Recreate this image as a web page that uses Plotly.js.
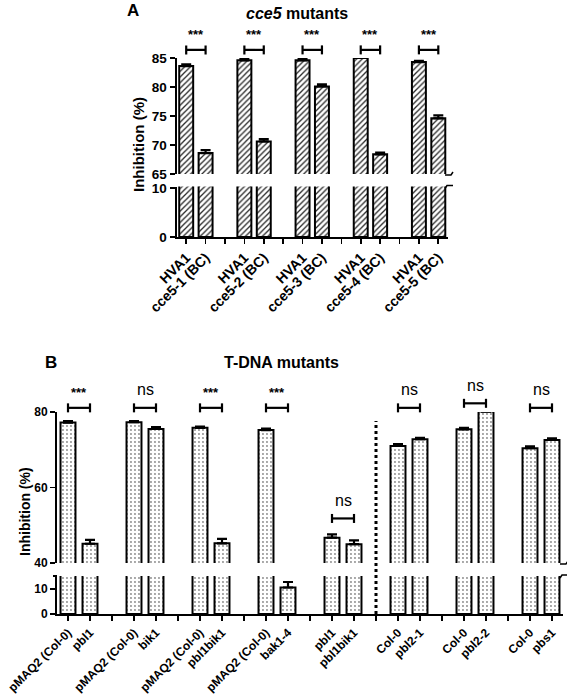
<!DOCTYPE html>
<html><head><meta charset="utf-8">
<script src="https://cdn.plot.ly/plotly-3.0.1.min.js"></script>
<style>html,body{margin:0;padding:0;background:#fff}</style>
</head><body><div id="chart" style="width:567px;height:697px"></div>
<script>
// ---------- Panel A data (cce5 mutants) ----------
const labelsA = ['HVA1','cce5-1 (BC)','HVA1','cce5-2 (BC)','HVA1','cce5-3 (BC)','HVA1','cce5-4 (BC)','HVA1','cce5-5 (BC)'];
const valuesA = [83.6, 68.6, 84.6, 70.6, 84.6, 80.1, 85.0, 68.4, 84.3, 74.6];
const errorsA = [0.3, 0.5, 0.2, 0.4, 0.2, 0.35, 0.0, 0.3, 0.2, 0.5];
const sigA = ['***','***','***','***','***'];

// ---------- Panel B data (T-DNA mutants) ----------
const labelsB = ['pMAQ2 (Col-0)','pbl1','pMAQ2 (Col-0)','bik1','pMAQ2 (Col-0)','pbl1bik1','pMAQ2 (Col-0)','bak1-4',
                 'pbl1','pbl1bik1','Col-0','pbl2-1','Col-0','pbl2-2','Col-0','pbs1'];
const valuesB = [77.2, 45.1, 77.3, 75.5, 75.8, 45.2, 75.2, 10.6, 46.7, 45.0, 71.0, 72.8, 75.4, 80.1, 70.4, 72.6];
const errorsB = [0.4, 1.0, 0.3, 0.5, 0.3, 1.2, 0.4, 2.2, 0.9, 1.0, 0.5, 0.35, 0.4, 0.0, 0.5, 0.4];
const sigB = ['***','ns','***','***','ns','ns','ns','ns'];

// ---------- layout helpers ----------
const W = 567, H = 697;
const FONT = 'Liberation Sans, Arial, sans-serif';
const px = x => x / W;
const py = y => 1 - y / H;
const slots = n => Array.from({length: n}, (_, i) => Math.floor(i / 2) * 3 + (i % 2));
function ticks(labels) {
  const n = (labels.length / 2) * 3 - 1, vals = [], text = [];
  for (let s = 0; s < n; s++) {
    vals.push(s);
    const r = s % 3;
    text.push(r === 2 ? '' : labels[Math.floor(s / 3) * 2 + r]);
  }
  return {vals, text};
}
const xA = slots(labelsA.length), xB = slots(labelsB.length);
const tA = ticks(labelsA), tB = ticks(labelsB);

// panel geometry (pixels)
const A = {x0: 176.5, x1: 448, upTop: 58, upBot: 174, loTop: 186.5, loBot: 237, upRange: [65, 85], loRange: [0, 10.3]};
const B = {x0: 57, x1: 563, upTop: 412, upBot: 563, loTop: 576, loBot: 614, upRange: [40, 80], loRange: [0, 15.2]};

const patA = {shape: '/', fgcolor: '#2a2a2a', bgcolor: '#ffffff', size: 4, solidity: 0.33};
const patB = {shape: '.', fgcolor: '#8a8a8a', bgcolor: '#ffffff', size: 4, solidity: 0.18};

function bars(x, y, err, xa, ya, pat, w) {
  return {
    type: 'bar', x: x, y: y, xaxis: xa, yaxis: ya, width: w,
    marker: {color: '#ffffff', pattern: pat, line: {color: '#000', width: 2}},
    error_y: {type: 'data', symmetric: false, array: err, arrayminus: err.map(() => 0),
              color: '#000', thickness: 2.2, width: 5},
    showlegend: false, hoverinfo: 'skip'
  };
}

const data = [
  bars(xA, valuesA, errorsA, 'x', 'y2', patA, 0.72),
  bars(xA, valuesA, errorsA, 'x2', 'y', patA, 0.72),
  bars(xB, valuesB, errorsB, 'x3', 'y4', patB, 0.68),
  bars(xB, valuesB, errorsB, 'x4', 'y3', patB, 0.68)
];

const tickFont = s => ({family: FONT, size: s, color: '#000', weight: 700});
function xAx(geo, t, anchor, visible, fs) {
  return {
    domain: [px(geo.x0), px(geo.x1)], range: [-0.5, t.vals.length - 0.5], anchor: anchor,
    tickmode: 'array', tickvals: t.vals, ticktext: t.text, tickangle: -45,
    ticks: visible ? 'outside' : '', ticklen: 5, tickwidth: 1.6, tickcolor: '#000',
    showline: visible, linewidth: 2, linecolor: '#000', showticklabels: visible,
    showgrid: false, zeroline: false, tickfont: tickFont(fs), fixedrange: true
  };
}
function yAx(top, bot, range, tv, anchor, fs) {
  return {
    domain: [py(bot), py(top)], range: range, anchor: anchor,
    tickmode: 'array', tickvals: tv, ticks: 'outside', ticklen: 5, tickwidth: 1.6, tickcolor: '#000',
    showline: true, linewidth: 2, linecolor: '#000', showgrid: false, zeroline: false,
    tickfont: tickFont(fs), fixedrange: true
  };
}

const shapes = [], annotations = [];
const frac = (v, r) => (v - r[0]) / (r[1] - r[0]);

function sig(geo, xa, ya, xs, marks, bracketVals, textGapPx) {
  const hPx = geo.upBot - geo.upTop;
  marks.forEach((m, g) => {
    const x0 = xs[2 * g], x1 = xs[2 * g + 1];
    const yb = frac(bracketVals[g], geo.upRange);
    const e = 4.5 / hPx;
    const line = {color: '#000', width: 2.2};
    shapes.push({type: 'line', xref: xa, yref: ya + ' domain', x0: x0, x1: x1, y0: yb, y1: yb, line: line});
    shapes.push({type: 'line', xref: xa, yref: ya + ' domain', x0: x0, x1: x0, y0: yb - e, y1: yb + e, line: line});
    shapes.push({type: 'line', xref: xa, yref: ya + ' domain', x0: x1, x1: x1, y0: yb - e, y1: yb + e, line: line});
    const isNs = m === 'ns';
    annotations.push({
      xref: xa, yref: ya + ' domain', x: (x0 + x1) / 2, y: yb + (isNs ? textGapPx + 3 : textGapPx) / hPx,
      text: m, showarrow: false, xanchor: 'center', yanchor: 'middle',
      font: isNs ? {family: FONT, size: 16, color: '#000'} : {family: FONT, size: 13, color: '#000', weight: 700}
    });
  });
}
sig(A, 'x2', 'y', xA, sigA, sigA.map(() => 86.4), 15);
sig(B, 'x4', 'y3', xB, sigB, [81.1, 81.1, 81.1, 81.1, 51.8, 81.1, 82.3, 81.1], 15);

// dashed divider between pMAQ2 and Col-0 backgrounds (gap after 5th group)
const divSlot = 4 * 3 + 2;
shapes.push({type: 'line', xref: 'x3', yref: 'paper', x0: divSlot, x1: divSlot,
  y0: py(B.loBot), y1: py(421), line: {color: '#000', width: 3, dash: 'dot'}});

// axis break marks (right end and top of lower left axis)
function breakMarks(geo) {
  const xr = geo.x1;
  shapes.push({type: 'path', xref: 'paper', yref: 'paper',
    path: `M ${px(xr - 3)} ${py(geo.upBot + 1)} L ${px(xr + 3)} ${py(geo.upBot + 1)} L ${px(xr + 5)} ${py(geo.upBot - 2)}`,
    line: {color: '#000', width: 1.5}});
  shapes.push({type: 'path', xref: 'paper', yref: 'paper',
    path: `M ${px(xr - 3)} ${py(geo.loTop + 2)} L ${px(xr - 1)} ${py(geo.loTop - 1)} L ${px(xr + 5)} ${py(geo.loTop - 1)}`,
    line: {color: '#000', width: 1.5}});
}
breakMarks(A);
breakMarks(B);
shapes.push({type: 'line', xref: 'paper', yref: 'paper', x0: px(B.x0 - 4), x1: px(B.x0), y0: py(B.loTop), y1: py(B.loTop),
  line: {color: '#000', width: 2}});

// titles
const T = (x, y, text, size, extra) => Object.assign({xref: 'paper', yref: 'paper', x: px(x), y: py(y), text: text,
  showarrow: false, xanchor: 'center', yanchor: 'middle', font: {family: FONT, size: size, color: '#000', weight: 700}}, extra || {});
annotations.push(T(133, 10, 'A', 17));
annotations.push(T(297, 13, '<i>cce5</i> mutants', 16));
annotations.push(T(51, 362, 'B', 17));
annotations.push(T(281, 362, 'T-DNA mutants', 16));
annotations.push(T(139, 145, 'Inhibition (%)', 15, {textangle: -90}));
annotations.push(T(25, 512, 'Inhibition (%)', 14, {textangle: -90}));

const layout = {
  width: W, height: H, margin: {l: 0, r: 0, t: 0, b: 0},
  paper_bgcolor: '#fff', plot_bgcolor: 'rgba(0,0,0,0)', bargap: 0, showlegend: false,
  font: {family: FONT, color: '#000'},
  xaxis: xAx(A, tA, 'y2', true, 14),
  xaxis2: Object.assign(xAx(A, tA, 'y', false, 14), {matches: 'x'}),
  yaxis: yAx(A.upTop, A.upBot, A.upRange, [65, 70, 75, 80, 85], 'x2', 13.5),
  yaxis2: yAx(A.loTop, A.loBot, A.loRange, [0, 10], 'x', 13.5),
  xaxis3: xAx(B, tB, 'y4', true, 12),
  xaxis4: Object.assign(xAx(B, tB, 'y3', false, 12), {matches: 'x3'}),
  yaxis3: yAx(B.upTop, B.upBot, B.upRange, [40, 60, 80], 'x4', 12),
  yaxis4: yAx(B.loTop, B.loBot, B.loRange, [0, 10], 'x3', 12),
  shapes: shapes, annotations: annotations
};

Plotly.newPlot('chart', data, layout, {staticPlot: true, displayModeBar: false});
</script>
</body></html>
